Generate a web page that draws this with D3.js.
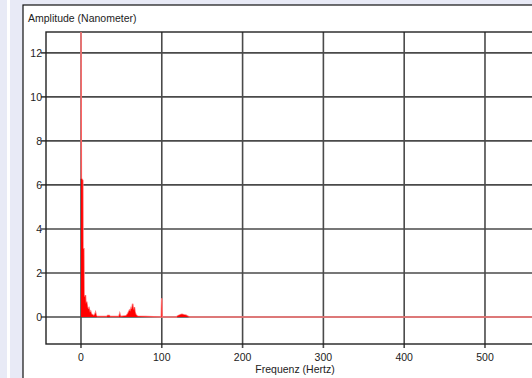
<!DOCTYPE html>
<html>
<head>
<meta charset="utf-8">
<script src="https://cdn.jsdelivr.net/npm/d3@7"></script>
<style>
  body { margin: 0; background: #e8eaf6; }
  svg { display: block; font-family: "Liberation Sans", Arial, sans-serif; }
</style>
</head>
<body>
<svg id="chart"></svg>
<script>
// spectrum values (Hz, nm)
var freqs = [0, 0.4, 2.2, 2.5, 3.5, 3.8, 4.5, 5.5, 6, 7, 8, 9, 10, 11, 12, 13, 14, 15, 16, 17, 18, 19, 20, 25, 32, 33, 35, 36, 47, 48, 49,
    56, 58, 60, 61, 62, 63, 64, 65, 66, 67, 68, 70, 99.5, 100, 100.5, 118, 120, 123, 125, 127, 130, 132, 135, 600]
var amps = [14, 6.3, 6.2, 3.1, 3.1, 1.0, 0.9, 1.0, 0.6, 0.7, 0.45, 0.35, 0.4, 0.2, 0.25, 0.12, 0.1, 0.08, 0.05, 0.1, 0.2, 0.05, 0.02, 0.02, 0.02, 0.06, 0.06, 0.02, 0.02, 0.15, 0.02,
    0.05, 0.15, 0.3, 0.25, 0.4, 0.35, 0.6, 0.3, 0.45, 0.2, 0.1, 0.03, 0, 0.85, 0, 0, 0.05, 0.1, 0.12, 0.1, 0.08, 0.03, 0, 0]
var xTicks = [0, 100, 200, 300, 400, 500]
var yTicks = [0, 2, 4, 6, 8, 10, 12]

var dimensions = {
    width: 532,
    height: 378,
    margin: { top: 32, bottom: 34, left: 46 }
}

var svg = d3.select("#chart")
    .attr("width", dimensions.width)
    .attr("height", dimensions.height)

// panel behind the chart
svg.append("rect").attr("x", 7).attr("y", 0).attr("width", 3).attr("height", dimensions.height).attr("fill", "#fff")
svg.append("rect").attr("x", 23).attr("y", 5).attr("width", 520).attr("height", 380)
    .attr("fill", "#fff").attr("stroke", "#111").attr("stroke-width", 1.2)

var xScale = d3.scaleLinear()
    .domain([-43.3, 600])
    .range([dimensions.margin.left, dimensions.margin.left + 643.3 * 0.808])
var yScale = d3.scaleLinear()
    .domain([-1.23, 12.95])
    .range([dimensions.height - dimensions.margin.bottom, dimensions.margin.top])

var x0 = xScale.range()[0], x1 = xScale.range()[1]
var y0 = yScale.range()[0], y1 = yScale.range()[1]

// grid
var grid = svg.append("g").attr("stroke", "#4a4a4a").attr("stroke-width", 1.6)
grid.selectAll("line.v").data(xTicks).enter().append("line")
    .attr("x1", d => xScale(d)).attr("x2", d => xScale(d))
    .attr("y1", y1).attr("y2", y0 + 4)
grid.selectAll("line.h").data(yTicks).enter().append("line")
    .attr("x1", x0 - 5).attr("x2", x1)
    .attr("y1", d => yScale(d)).attr("y2", d => yScale(d))

// frame
svg.append("rect")
    .attr("x", x0).attr("y", y1)
    .attr("width", x1 - x0).attr("height", y0 - y1)
    .attr("fill", "none").attr("stroke", "#222").attr("stroke-width", 1.4)

// spectrum
svg.append("clipPath").attr("id", "clip").append("rect")
    .attr("x", x0).attr("y", y1).attr("width", x1 - x0).attr("height", y0 - y1)
var data = freqs.map((f, i) => ({ f: f, a: amps[i] }))
var plot = svg.append("g").attr("clip-path", "url(#clip)")
plot.append("path")
    .datum(data)
    .attr("d", d3.line().x(d => xScale(d.f)).y(d => yScale(d.a)))
    .attr("fill", "none")
    .attr("stroke", "#ff7a7a")
    .attr("stroke-width", 1.6)
plot.append("path")
    .datum(data)
    .attr("d", d3.area().x(d => xScale(d.f)).y0(yScale(0)).y1(d => yScale(d.a)))
    .attr("fill", "#ff0000")

// tick labels
svg.append("g").selectAll("text").data(xTicks).enter().append("text")
    .attr("x", d => xScale(d)).attr("y", y0 + 17)
    .attr("text-anchor", "middle").attr("font-size", 10.5).attr("fill", "#222")
    .text(d => d)
svg.append("g").selectAll("text").data(yTicks).enter().append("text")
    .attr("x", x0 - 4).attr("y", d => yScale(d) + 4)
    .attr("text-anchor", "end").attr("font-size", 10.5).attr("fill", "#222")
    .text(d => d)

svg.append("text")
    .attr("x", 28).attr("y", 22)
    .attr("font-size", 10.5).attr("fill", "#222")
    .text("Amplitude (Nanometer)")
svg.append("text")
    .attr("x", 295).attr("y", 373)
    .attr("text-anchor", "middle")
    .attr("font-size", 10.5).attr("fill", "#222")
    .text("Frequenz (Hertz)")
</script>
</body>
</html>
